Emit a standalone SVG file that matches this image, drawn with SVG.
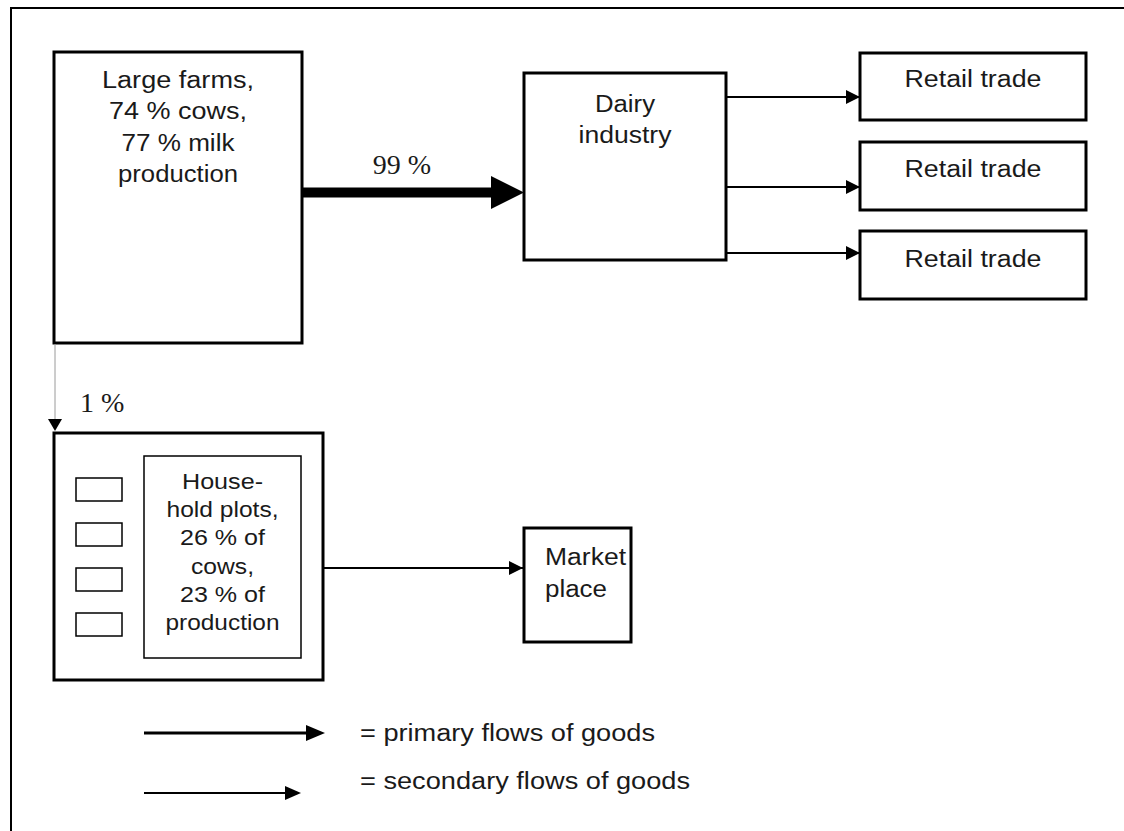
<svg xmlns="http://www.w3.org/2000/svg" width="1124" height="831" viewBox="0 0 1124 831">
  <style>
    .box { fill: #ffffff; stroke: #000000; stroke-width: 3; }
    .thin { fill: #ffffff; stroke: #000000; stroke-width: 1.5; }
    .lbl { font-family: "Liberation Sans", Arial, sans-serif; font-size: 23px; fill: #1a1a1a; }
    .hh { font-family: "Liberation Sans", Arial, sans-serif; font-size: 22px; fill: #1a1a1a; }
    .pct { font-family: "Liberation Serif", "Times New Roman", serif; font-size: 28px; fill: #1a1a1a; }
    .flow { stroke: #000000; stroke-width: 2; fill: none; }
  </style>
  <defs>
    <marker id="head" viewBox="0 0 14 14" refX="14" refY="7" markerWidth="14" markerHeight="14" markerUnits="userSpaceOnUse" orient="auto">
      <path d="M0,0 L14,7 L0,14 Z" fill="#000000"/>
    </marker>
  </defs>

  <rect width="1124" height="831" fill="#ffffff"/>
  <!-- page frame -->
  <path d="M11,831 V8 H1124" fill="none" stroke="#000000" stroke-width="2"/>

  <g id="large-farms">
    <rect class="box" x="54" y="52" width="248" height="291"/>
    <text class="lbl" x="178" y="88" text-anchor="middle" textLength="152" lengthAdjust="spacingAndGlyphs">Large farms,</text>
    <text class="lbl" x="178" y="119" text-anchor="middle" textLength="138" lengthAdjust="spacingAndGlyphs">74 % cows,</text>
    <text class="lbl" x="178" y="151" text-anchor="middle" textLength="113" lengthAdjust="spacingAndGlyphs">77 % milk</text>
    <text class="lbl" x="178" y="182" text-anchor="middle" textLength="120" lengthAdjust="spacingAndGlyphs">production</text>
  </g>

  <g id="dairy-industry">
    <rect class="box" x="524" y="73" width="202" height="187" stroke-width="3.5"/>
    <text class="lbl" x="625" y="112" text-anchor="middle" textLength="60" lengthAdjust="spacingAndGlyphs">Dairy</text>
    <text class="lbl" x="625" y="143" text-anchor="middle" textLength="93" lengthAdjust="spacingAndGlyphs">industry</text>
  </g>

  <g id="retail-1">
    <rect class="box" x="860" y="53" width="226" height="67"/>
    <text class="lbl" x="973" y="87" text-anchor="middle" textLength="137" lengthAdjust="spacingAndGlyphs">Retail trade</text>
  </g>
  <g id="retail-2">
    <rect class="box" x="860" y="142" width="226" height="68"/>
    <text class="lbl" x="973" y="177" text-anchor="middle" textLength="137" lengthAdjust="spacingAndGlyphs">Retail trade</text>
  </g>
  <g id="retail-3">
    <rect class="box" x="860" y="231" width="226" height="68"/>
    <text class="lbl" x="973" y="267" text-anchor="middle" textLength="137" lengthAdjust="spacingAndGlyphs">Retail trade</text>
  </g>

  <g id="household-plots">
    <rect class="box" x="54" y="433" width="269" height="247"/>
    <rect class="thin" x="76" y="478" width="46" height="23"/>
    <rect class="thin" x="76" y="523" width="46" height="23"/>
    <rect class="thin" x="76" y="568" width="46" height="23"/>
    <rect class="thin" x="76" y="613" width="46" height="23"/>
    <rect class="thin" x="144" y="456" width="157" height="202"/>
    <text class="hh" x="222.5" y="489" text-anchor="middle" textLength="81" lengthAdjust="spacingAndGlyphs">House-</text>
    <text class="hh" x="222.5" y="517" text-anchor="middle" textLength="112" lengthAdjust="spacingAndGlyphs">hold plots,</text>
    <text class="hh" x="222.5" y="545" text-anchor="middle" textLength="85" lengthAdjust="spacingAndGlyphs">26 % of</text>
    <text class="hh" x="222.5" y="574" text-anchor="middle" textLength="63" lengthAdjust="spacingAndGlyphs">cows,</text>
    <text class="hh" x="222.5" y="602" text-anchor="middle" textLength="85" lengthAdjust="spacingAndGlyphs">23 % of</text>
    <text class="hh" x="222.5" y="630" text-anchor="middle" textLength="114" lengthAdjust="spacingAndGlyphs">production</text>
  </g>

  <g id="market-place">
    <rect class="box" x="524" y="528" width="107" height="114"/>
    <text class="lbl" x="545" y="565" textLength="81" lengthAdjust="spacingAndGlyphs">Market</text>
    <text class="lbl" x="545" y="597" textLength="62" lengthAdjust="spacingAndGlyphs">place</text>
  </g>

  <g id="connectors">
    <!-- 99 % main flow -->
    <rect x="302" y="187.5" width="191" height="10" fill="#000000"/>
    <path d="M491,176 L524,192.5 L491,209 Z" fill="#000000"/>
    <text class="pct" x="402" y="174" text-anchor="middle">99 %</text>
    <!-- dairy to retail -->
    <path class="flow" d="M726,97 H860" marker-end="url(#head)"/>
    <path class="flow" d="M726,187 H860" marker-end="url(#head)"/>
    <path class="flow" d="M726,253 H860" marker-end="url(#head)"/>
    <!-- 1 % side flow -->
    <line x1="55" y1="344" x2="55" y2="420" stroke="#9a9a9a" stroke-width="1"/>
    <path d="M48,419 L62,419 L55,431 Z" fill="#000000"/>
    <text class="pct" x="80" y="412">1 %</text>
    <!-- household to market -->
    <path class="flow" d="M323,568 H523" stroke-width="1.6" marker-end="url(#head)"/>
  </g>

  <g id="legend">
    <path d="M144,733 H310" stroke="#000000" stroke-width="3"/>
    <path d="M306,725 L325,733 L306,741 Z" fill="#000000"/>
    <text class="lbl" x="360" y="741" textLength="295" lengthAdjust="spacingAndGlyphs">= primary flows of goods</text>
    <path d="M144,793 H288" stroke="#000000" stroke-width="2.2"/>
    <path d="M285,786 L301,793 L285,800 Z" fill="#000000"/>
    <text class="lbl" x="360" y="789" textLength="330" lengthAdjust="spacingAndGlyphs">= secondary flows of goods</text>
  </g>
</svg>
